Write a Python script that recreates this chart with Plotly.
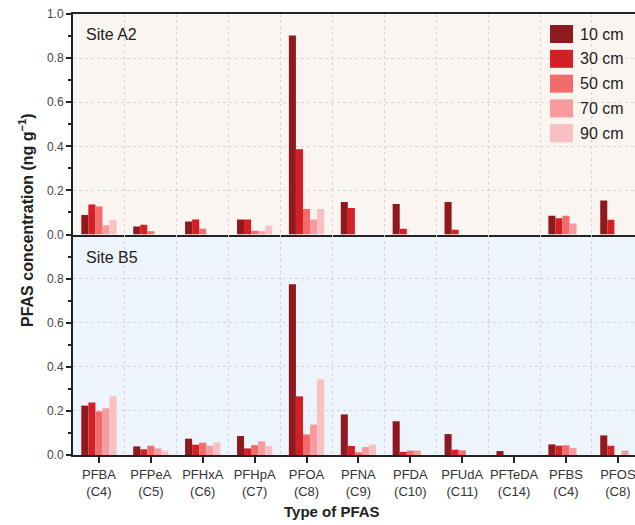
import plotly.graph_objects as go

categories = ["PFBA<br>(C4)", "PFPeA<br>(C5)", "PFHxA<br>(C6)", "PFHpA<br>(C7)", "PFOA<br>(C8)",
              "PFNA<br>(C9)", "PFDA<br>(C10)", "PFUdA<br>(C11)", "PFTeDA<br>(C14)", "PFBS<br>(C4)", "PFOS<br>(C8)"]
depths = ["10 cm", "30 cm", "50 cm", "70 cm", "90 cm"]
colors = ["#8E1A1F", "#D41F26", "#F26C6C", "#F79B9E", "#F9C0C4"]

# Site A2 (top panel)
a2_10 = [0.089, 0.036, 0.059, 0.068, 0.903, 0.147, 0.138, 0.147, 0.0, 0.085, 0.154]
a2_30 = [0.136, 0.044, 0.068, 0.068, 0.387, 0.120, 0.026, 0.021, 0.0, 0.074, 0.067]
a2_50 = [0.127, 0.015, 0.026, 0.017, 0.116, 0.0, 0.0, 0.0, 0.0, 0.085, 0.0]
a2_70 = [0.042, 0.0, 0.0, 0.015, 0.068, 0.0, 0.0, 0.0, 0.0, 0.050, 0.0]
a2_90 = [0.067, 0.0, 0.0, 0.041, 0.116, 0.0, 0.0, 0.0, 0.0, 0.0, 0.0]

# Site B5 (bottom panel)
b5_10 = [0.224, 0.039, 0.074, 0.086, 0.774, 0.184, 0.153, 0.095, 0.018, 0.048, 0.089]
b5_30 = [0.238, 0.026, 0.047, 0.030, 0.266, 0.041, 0.014, 0.024, 0.0, 0.042, 0.042]
b5_50 = [0.198, 0.042, 0.056, 0.045, 0.093, 0.012, 0.020, 0.021, 0.0, 0.044, 0.0]
b5_70 = [0.212, 0.030, 0.042, 0.062, 0.138, 0.036, 0.020, 0.0, 0.0, 0.032, 0.020]
b5_90 = [0.266, 0.020, 0.057, 0.041, 0.343, 0.047, 0.0, 0.0, 0.0, 0.0, 0.0]

a2 = [a2_10, a2_30, a2_50, a2_70, a2_90]
b5 = [b5_10, b5_30, b5_50, b5_70, b5_90]
xpos = list(range(len(categories)))

fig = go.Figure()
for i, d in enumerate(depths):
    fig.add_trace(go.Bar(x=xpos, y=a2[i], name=d, marker=dict(color=colors[i], line=dict(width=0)),
                         xaxis="x", yaxis="y", offsetgroup=str(i), showlegend=False))
    fig.add_trace(go.Bar(x=xpos, y=b5[i], name=d, marker=dict(color=colors[i], line=dict(width=0)),
                         xaxis="x2", yaxis="y2", offsetgroup=str(i), showlegend=False))

FONT = "Liberation Sans, Arial, sans-serif"
L, T, W, H = 73, 14, 635, 525
B = 70
pw, ph = W - L, H - T - B

xr = [-0.5, 10.33]
bounds = [i + 0.5 for i in range(-1, len(categories))]

common_x = dict(range=xr, showline=True, linecolor="#222", linewidth=2, zeroline=False,
                showgrid=False,
                minor=dict(tickvals=bounds, showgrid=True, gridcolor="#D6D6D6", griddash="dot",
                           gridwidth=1, ticks=""))
common_y = dict(range=[0, 1.0], showline=True, linecolor="#222", linewidth=2, zeroline=False,
                showgrid=True, gridcolor="#D6D6D6", griddash="dot", gridwidth=1,
                ticks="outside", ticklen=5, tickwidth=1.5, tickcolor="#222",
                tickfont=dict(family=FONT, size=12, color="#444"), tickformat=".1f",
                minor=dict(dtick=0.1, ticks="outside", ticklen=3, tickcolor="#222", showgrid=False))

fig.update_layout(
    width=W, height=H,
    margin=dict(l=L, r=0, t=T, b=B),
    paper_bgcolor="white",
    plot_bgcolor="white",
    barmode="group", bargap=0.32, bargroupgap=0,
    showlegend=False,
    font=dict(family=FONT, color="#333"),
    xaxis=dict(common_x, domain=[0, 1], anchor="y", mirror=True, showticklabels=False, ticks=""),
    yaxis=dict(common_y, domain=[0.5, 1.0], anchor="x", dtick=0.2),
    xaxis2=dict(common_x, domain=[0, 1], anchor="y2", tickmode="array", tickvals=xpos,
                ticktext=categories, ticks="outside", ticklen=6, tickwidth=2, tickcolor="#222",
                ticklabeloverflow="allow",
                tickfont=dict(family=FONT, size=13, color="#333")),
    yaxis2=dict(common_y, domain=[0, 0.5], anchor="x2", tickvals=[0, 0.2, 0.4, 0.6, 0.8]),
)

# panel backgrounds
fig.add_shape(type="rect", xref="x domain", yref="y domain", x0=0, x1=1, y0=0, y1=1,
              fillcolor="#FAF5F0", line=dict(width=0), layer="below")
fig.add_shape(type="rect", xref="x2 domain", yref="y2 domain", x0=0, x1=1, y0=0, y1=1,
              fillcolor="#EEF4FB", line=dict(width=0), layer="below")

# site labels
fig.add_annotation(text="Site A2", xref="x domain", yref="y domain", x=0.02, y=0.909,
                   xanchor="left", yanchor="middle", showarrow=False,
                   font=dict(family=FONT, size=16, color="#222"))
fig.add_annotation(text="Site B5", xref="x2 domain", yref="y2 domain", x=0.02, y=0.895,
                   xanchor="left", yanchor="middle", showarrow=False,
                   font=dict(family=FONT, size=16, color="#222"))

# custom legend
def px_x(p):
    return (p - L) / pw

def px_y(p):
    return (H - B - p) / ph

for i, d in enumerate(depths):
    cy = 34 + i * 24.8
    fig.add_shape(type="rect", xref="paper", yref="paper",
                  x0=px_x(550), x1=px_x(573), y0=px_y(cy + 9), y1=px_y(cy - 9),
                  fillcolor=colors[i], line=dict(width=0))
    fig.add_annotation(text=d, xref="paper", yref="paper", x=px_x(578), y=px_y(cy),
                       xanchor="left", yanchor="middle", showarrow=False,
                       font=dict(family=FONT, size=16, color="#222"))

# axis titles
fig.add_annotation(text="<b>PFAS concentration (ng g<sup>−1</sup>)</b>", xref="paper", yref="paper",
                   x=px_x(26), y=px_y(220), textangle=-90, showarrow=False,
                   xanchor="center", yanchor="middle",
                   font=dict(family=FONT, size=16, color="#222"))
fig.add_annotation(text="<b>Type of PFAS</b>", xref="paper", yref="paper",
                   x=px_x(332), y=px_y(512), showarrow=False,
                   xanchor="center", yanchor="middle",
                   font=dict(family=FONT, size=15, color="#222"))

fig.write_html("out.html", config={"displayModeBar": False},
               post_script="document.body.style.margin='0';document.body.style.padding='0';"
                           "document.body.style.overflow='hidden';")
